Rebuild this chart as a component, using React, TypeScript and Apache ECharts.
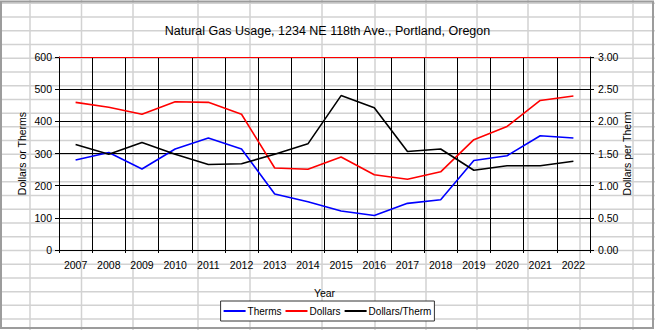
import React, { useEffect, useRef } from "react";
import * as echarts from "echarts";

const years = ["2007", "2008", "2009", "2010", "2011", "2012", "2013", "2014", "2015", "2016", "2017", "2018", "2019", "2020", "2021", "2022"];
const therms = [280, 303, 252, 314, 348, 314, 174, 150, 121, 107, 145, 156, 278, 293, 355, 348];
const dollars = [459, 444, 422, 461, 459, 422, 255, 251, 289, 234, 220, 243, 343, 384, 465, 479];
const dollarsPerTherm = [1.64, 1.49, 1.67, 1.49, 1.33, 1.34, 1.49, 1.65, 2.4, 2.21, 1.53, 1.57, 1.24, 1.31, 1.31, 1.38];

const FONT = "'Liberation Sans', Arial, sans-serif";

// spreadsheet backdrop (decoration only)
const W = 655;
const H = 330;
const sheetCols = [30, 81.5, 133, 198, 250, 322, 375, 426, 477, 528, 580, 633];
const rowStart = 3.3;
const rowStep = 13.73;
const rowCount = 24;

export default function App() {
  const ref = useRef<HTMLDivElement>(null);

  useEffect(() => {
    if (!ref.current) return;
    const chart = echarts.init(ref.current, undefined, { renderer: "svg" });

    const backdrop: any[] = [];
    for (let k = 0; k < rowCount; k++) {
      const y = rowStart + rowStep * k;
      backdrop.push({
        type: "line",
        silent: true,
        z: -10,
        shape: { x1: 0, y1: y, x2: W, y2: y },
        style: { stroke: "#d2d2d2", lineWidth: 1.5 },
      });
    }
    sheetCols.forEach((x) => {
      backdrop.push({
        type: "line",
        silent: true,
        z: -10,
        shape: { x1: x, y1: 0, x2: x, y2: H },
        style: { stroke: "#d2d2d2", lineWidth: 1.5 },
      });
    });
    backdrop.push({
      type: "rect",
      silent: true,
      z: -9,
      shape: { x: 1, y: 1.5, width: 652, height: 326.5 },
      style: { fill: "none", stroke: "#9c9c9c", lineWidth: 2 },
    });

    const axisText = { color: "#000", fontFamily: FONT, fontSize: 10.5 };

    chart.setOption({
      animation: false,
      backgroundColor: "transparent",
      graphic: { elements: backdrop },
      title: {
        text: "Natural Gas Usage, 1234 NE 118th Ave., Portland, Oregon",
        left: "center",
        top: 24,
        padding: 0,
        textStyle: { color: "#000", fontFamily: FONT, fontSize: 12.5, fontWeight: "normal" },
      },
      legend: {
        bottom: 9,
        left: "center",
        padding: [5, 3],
        itemGap: 4,
        itemWidth: 22,
        itemHeight: 2,
        icon: "rect",
        backgroundColor: "#fff",
        borderColor: "#333",
        borderWidth: 1,
        borderRadius: 0,
        textStyle: { color: "#000", fontFamily: FONT, fontSize: 10, padding: [0, 0, 0, -3] },
        data: ["Therms", "Dollars", "Dollars/Therm"],
      },
      grid: { left: 59, right: 65, top: 57, bottom: 80, outerBoundsMode: "none" },
      xAxis: {
        type: "category",
        data: years,
        boundaryGap: true,
        name: "Year",
        nameLocation: "middle",
        nameGap: 37,
        nameMoveOverlap: false,
        nameTextStyle: { color: "#000", fontFamily: FONT, fontSize: 10.5 },
        axisLine: { show: true, lineStyle: { color: "#000", width: 1 } },
        axisTick: { show: true, length: 3, interval: 0, lineStyle: { color: "#000" } },
        axisLabel: { ...axisText, interval: 0, margin: 9 },
        splitLine: { show: true, interval: 0, lineStyle: { color: "#000", width: 1 } },
      },
      yAxis: [
        {
          type: "value",
          min: 0,
          max: 600,
          interval: 100,
          position: "left",
          name: "Dollars or Therms",
          nameLocation: "middle",
          nameGap: 32,
          nameRotate: 90,
          nameMoveOverlap: false,
          nameTextStyle: { color: "#000", fontFamily: FONT, fontSize: 10.5 },
          axisLine: { show: true, lineStyle: { color: "#000", width: 1 } },
          axisTick: { show: true, length: 4, lineStyle: { color: "#000" } },
          axisLabel: { ...axisText, margin: 7 },
          splitLine: { show: true, lineStyle: { color: "#000", width: 1 } },
        },
        {
          type: "value",
          min: 0,
          max: 3,
          interval: 0.5,
          position: "right",
          name: "Dollars per Therm",
          nameLocation: "middle",
          nameGap: 31,
          nameRotate: 90,
          nameMoveOverlap: false,
          nameTextStyle: { color: "#000", fontFamily: FONT, fontSize: 10.5 },
          axisLine: { show: true, lineStyle: { color: "#000", width: 1 } },
          axisTick: { show: true, length: 4, lineStyle: { color: "#000" } },
          axisLabel: { ...axisText, margin: 8, formatter: (v: number) => v.toFixed(2) },
          splitLine: { show: false },
        },
      ],
      series: [
        {
          name: "Therms",
          type: "line",
          yAxisIndex: 0,
          data: therms,
          symbol: "none",
          lineStyle: { color: "#0000ff", width: 1.6 },
          itemStyle: { color: "#0000ff" },
        },
        {
          name: "Dollars",
          type: "line",
          yAxisIndex: 0,
          data: dollars,
          symbol: "none",
          lineStyle: { color: "#ff0000", width: 1.6 },
          itemStyle: { color: "#ff0000" },
          markLine: {
            silent: true,
            symbol: ["none", "none"],
            label: { show: false },
            lineStyle: { color: "#ff0000", width: 1, type: "solid" },
            data: [{ yAxis: 600 }],
          },
        },
        {
          name: "Dollars/Therm",
          type: "line",
          yAxisIndex: 1,
          data: dollarsPerTherm,
          symbol: "none",
          lineStyle: { color: "#000000", width: 1.6 },
          itemStyle: { color: "#000000" },
        },
      ],
    });

    return () => chart.dispose();
  }, []);

  return (
    <div
      ref={ref}
      style={{ position: "fixed", left: 0, top: 0, width: W, height: H, background: "#fff" }}
    />
  );
}
